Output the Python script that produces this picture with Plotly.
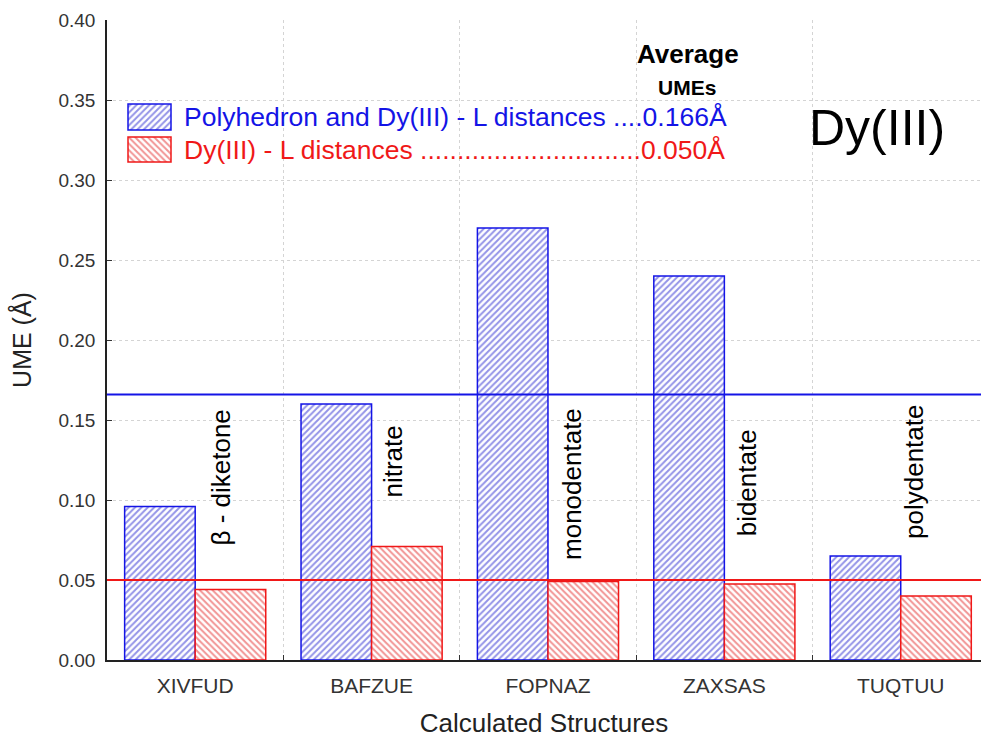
import plotly.graph_objects as go

# ---- data ----
structures = ["XIVFUD", "BAFZUE", "FOPNAZ", "ZAXSAS", "TUQTUU"]
ume_polyhedron = [0.096, 0.160, 0.270, 0.240, 0.065]   # Polyhedron and Dy(III) - L distances
ume_distances = [0.044, 0.071, 0.049, 0.0475, 0.040]   # Dy(III) - L distances only
avg_polyhedron = 0.166
avg_distances = 0.050

ligand_types = ["β - diketone", "nitrate", "monodentate", "bidentate", "polydentate"]
ligand_label_dx = [0.146, 0.121, 0.136, 0.128, 0.075]   # offset from category centre
ligand_label_y = [0.114, 0.124, 0.110, 0.111, 0.1175]

ytick_vals = [0.00, 0.05, 0.10, 0.15, 0.20, 0.25, 0.30, 0.35, 0.40]
ytick_text = ["0.00", "0.05", "0.10", "0.15", "0.20", "0.25", "0.30", "0.35", "0.40"]

# ---- styling ----
W, H = 981, 738
ML, MR, MT, MB = 107, 0, 20, 78
BLUE = "#1414e6"
BLUE_HATCH = "#2828d0"
RED = "#f01818"
RED_HATCH = "#e42a2a"
FONT = "Liberation Sans, Arial, sans-serif"


def px_x(px):
    return (px - ML) / (W - ML - MR)


def px_y(py):
    return (H - MB - py) / (H - MB - MT)


def hatch(shape, fg):
    return dict(shape=shape, fgcolor=fg, bgcolor="white", size=4.5, solidity=0.45)


fig = go.Figure()

fig.add_trace(go.Bar(
    x=structures, y=ume_polyhedron, name="Polyhedron and Dy(III) - L distances",
    marker=dict(color="white", line=dict(color=BLUE, width=1.5),
                pattern=hatch("/", BLUE_HATCH)),
    showlegend=False,
))
fig.add_trace(go.Bar(
    x=structures, y=ume_distances, name="Dy(III) - L distances",
    marker=dict(color="white", line=dict(color=RED, width=1.5),
                pattern=hatch("\\", RED_HATCH)),
    showlegend=False,
))

# legend swatches drawn on an invisible overlay axis pair
sw_x0, sw_x1 = px_x(128), px_x(171)
for top, bot, col, hc, shp in [(104, 130, BLUE, BLUE_HATCH, "/"),
                               (137, 162, RED, RED_HATCH, "\\")]:
    fig.add_trace(go.Bar(
        x=[sw_x1 - sw_x0], base=[sw_x0], y=[px_y(bot)], width=[px_y(top) - px_y(bot)],
        offset=0, orientation="h", xaxis="x2", yaxis="y2",
        marker=dict(color="white", line=dict(color=col, width=1.5), pattern=hatch(shp, hc)),
        showlegend=False, hoverinfo="skip",
    ))

# average lines
for val, col in [(avg_polyhedron, BLUE), (avg_distances, RED)]:
    fig.add_shape(type="line", xref="paper", yref="y", x0=0, x1=1, y0=val, y1=val,
                  line=dict(color=col, width=2), layer="above")

annotations = []
# ligand type labels
for i, (lab, dx, yy) in enumerate(zip(ligand_types, ligand_label_dx, ligand_label_y)):
    annotations.append(dict(x=i + dx, y=yy, xref="x", yref="y", text=lab, textangle=-90,
                            showarrow=False, font=dict(family=FONT, size=26, color="black"),
                            xanchor="center", yanchor="middle"))

# legend text and headings
annotations.append(dict(x=px_x(182), y=px_y(117), xref="paper", yref="paper",
                        text="Polyhedron and Dy(III) - L distances ....%.3fÅ" % avg_polyhedron,
                        showarrow=False, xanchor="left", yanchor="middle",
                        font=dict(family=FONT, size=26.5, color=BLUE)))
annotations.append(dict(x=px_x(182), y=px_y(150), xref="paper", yref="paper",
                        text="Dy(III) - L distances " + "." * 30 + "%.3fÅ" % avg_distances,
                        showarrow=False, xanchor="left", yanchor="middle",
                        font=dict(family=FONT, size=26.5, color=RED)))
annotations.append(dict(x=px_x(688), y=px_y(54), xref="paper", yref="paper",
                        text="<b>Average</b>", showarrow=False,
                        xanchor="center", yanchor="middle",
                        font=dict(family=FONT, size=26, color="black")))
annotations.append(dict(x=px_x(687), y=px_y(87), xref="paper", yref="paper",
                        text="<b>UMEs</b>", showarrow=False,
                        xanchor="center", yanchor="middle",
                        font=dict(family=FONT, size=21, color="black")))
annotations.append(dict(x=px_x(877), y=px_y(128), xref="paper", yref="paper",
                        text="Dy(III)", showarrow=False,
                        xanchor="center", yanchor="middle",
                        font=dict(family=FONT, size=50, color="black")))

fig.update_layout(
    width=W, height=H,
    margin=dict(l=ML, r=MR, t=MT, b=MB, pad=0),
    paper_bgcolor="white", plot_bgcolor="white",
    barmode="group", bargap=0.2, bargroupgap=0,
    showlegend=False,
    font=dict(family=FONT, color="#222"),
    annotations=annotations,
    xaxis=dict(
        range=[-0.5, 4.455], tickson="boundaries", ticks="inside", ticklen=5,
        tickcolor="#333", showline=True, linecolor="#222", linewidth=1.5,
        showgrid=True, gridcolor="#d4d4d4", griddash="dot", gridwidth=1,
        tickfont=dict(family=FONT, size=21, color="#333"), ticklabelstandoff=6,
        title=dict(text="Calculated Structures", font=dict(family=FONT, size=26, color="#222"),
                   standoff=18),
        automargin=False, fixedrange=True,
    ),
    yaxis=dict(
        range=[0, 0.40], tickvals=ytick_vals, ticktext=ytick_text, ticks="inside",
        ticklen=5, tickcolor="#333", showline=True, linecolor="#222", linewidth=1.5,
        showgrid=True, gridcolor="#d4d4d4", griddash="dot", gridwidth=1, zeroline=False,
        tickfont=dict(family=FONT, size=19, color="#333"), ticklabelstandoff=6,
        title=dict(text="UME (Å)", font=dict(family=FONT, size=25, color="#222"), standoff=20),
        automargin=False, fixedrange=True,
    ),
    xaxis2=dict(overlaying="x", anchor="y2", range=[0, 1], visible=False, fixedrange=True),
    yaxis2=dict(overlaying="y", anchor="x2", range=[0, 1], visible=False, fixedrange=True),
)

fig.write_html("out.html")
